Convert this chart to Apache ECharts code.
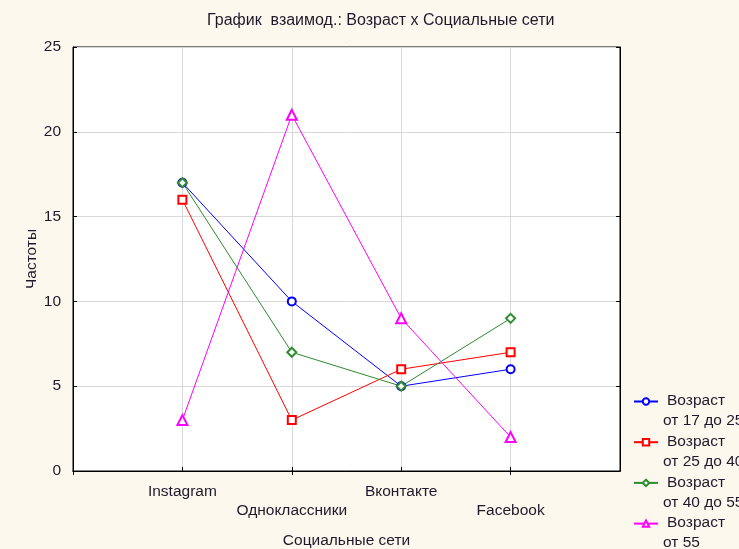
<!DOCTYPE html>
<html>
<head>
<meta charset="utf-8">
<script src="https://cdn.jsdelivr.net/npm/echarts@6/dist/echarts.min.js"></script>
<style>
  html, body { margin: 0; padding: 0; background: #fdf8ee; }
  #chart { width: 739px; height: 549px; }
</style>
</head>
<body>
<div id="chart"></div>
<script>
// данные с графика
var categories = ["Instagram", "Одноклассники", "Вконтакте", "Facebook"];
var age17to25 = [17, 10, 5, 6];
var age25to40 = [16, 3, 6, 7];
var age40to55 = [17, 7, 5, 9];
var age55plus = [3, 21, 9, 2];
var seriesNames = ["Возраст\nот 17 до 25", "Возраст\nот 25 до 40", "Возраст\nот 40 до 55", "Возраст\nот 55"];
var yTicks = [0, 5, 10, 15, 20, 25];

// пустые места по краям оси, как в оригинале
var axisData = [""].concat(categories).concat([""]);
function pad(arr) { return [null].concat(arr).concat([null]); }

var font = "Liberation Sans, Arial, sans-serif";
var textColor = "#1e1a2a";
var fs = 15.5;

function makeSeries(name, data, color, symbol, size) {
  return {
    name: name,
    type: "line",
    data: pad(data),
    symbol: symbol,
    symbolSize: size,
    showSymbol: true,
    connectNulls: false,
    lineStyle: { color: color, width: 1 },
    itemStyle: { color: color, borderColor: color, borderWidth: 1 },
    emphasis: { disabled: true },
    animation: false
  };
}

var chart = echarts.init(document.getElementById("chart"));
chart.setOption({
  backgroundColor: "#fdf8ee",
  animation: false,
  title: {
    text: "График  взаимод.: Возраст x Социальные сети",
    left: 207,
    top: 13,
    padding: 0,
    textStyle: { fontFamily: font, fontSize: 16, fontWeight: "normal", color: textColor }
  },
  legend: {
    orient: "vertical",
    left: 633,
    top: 393,
    height: 300,
    padding: 0,
    itemWidth: 24,
    itemHeight: 8,
    itemGap: 4.7,
    data: seriesNames,
    formatter: function (name) {
      var parts = name.split("\n");
      return "{a|" + parts[0] + "}\n{b|" + parts[1] + "}";
    },
    textStyle: {
      fontFamily: font,
      fontSize: fs,
      color: textColor,
      padding: [19, 0, 0, 0],
      rich: {
        a: { fontFamily: font, fontSize: fs, color: textColor, lineHeight: 20, padding: [0, 0, 0, 4] },
        b: { fontFamily: font, fontSize: fs, color: textColor, lineHeight: 20 }
      }
    }
  },
  grid: {
    left: 73,
    right: 119,
    top: 47,
    bottom: 78,
    outerBoundsMode: "none",
    containLabel: false,
    show: true,
    backgroundColor: "#ffffff",
    borderColor: "#000000",
    borderWidth: 1
  },
  xAxis: [
    {
      type: "category",
      data: axisData,
      boundaryGap: false,
      name: "Социальные сети",
      nameLocation: "middle",
      nameGap: 62,
      nameTextStyle: { fontFamily: font, fontSize: fs, color: textColor },
      axisLine: { lineStyle: { color: "#000" } },
      axisTick: { inside: true, length: 4, lineStyle: { color: "#000" } },
      axisLabel: {
        interval: 0,
        margin: 11,
        fontFamily: font,
        fontSize: fs,
        color: textColor,
        lineHeight: 19,
        formatter: function (v, i) { return i % 2 === 0 ? "\n" + v : v + "\n"; }
      },
      splitLine: { show: true, lineStyle: { color: "#d8d8d8", width: 1 } }
    },
    {
      type: "category",
      data: axisData,
      boundaryGap: false,
      position: "top",
      axisLine: { lineStyle: { color: "#000" } },
      axisTick: { inside: true, length: 4, lineStyle: { color: "#000" } },
      axisLabel: { show: false },
      splitLine: { show: false }
    }
  ],
  yAxis: [
    {
      type: "value",
      min: yTicks[0],
      max: yTicks[yTicks.length - 1],
      interval: 5,
      name: "Частоты",
      nameLocation: "middle",
      nameGap: 33,
      nameMoveOverlap: false,
      nameTextStyle: { fontFamily: font, fontSize: fs, color: textColor },
      axisLine: { show: true, lineStyle: { color: "#000" } },
      axisTick: { show: true, inside: true, length: 4, lineStyle: { color: "#000" } },
      axisLabel: { margin: 12, fontFamily: font, fontSize: fs, color: textColor },
      splitLine: { show: true, lineStyle: { color: "#d8d8d8", width: 1 } }
    },
    {
      type: "value",
      min: yTicks[0],
      max: yTicks[yTicks.length - 1],
      interval: 5,
      position: "right",
      axisLine: { show: true, lineStyle: { color: "#000" } },
      axisTick: { show: true, inside: true, length: 4, lineStyle: { color: "#000" } },
      axisLabel: { show: false },
      splitLine: { show: false }
    }
  ],
  series: [
    makeSeries(seriesNames[0], age17to25, "#0000ff", "emptyCircle", 8),
    makeSeries(seriesNames[1], age25to40, "#ff0000", "emptyRect", 8),
    makeSeries(seriesNames[2], age40to55, "#2e8b2e", "emptyDiamond", 9),
    makeSeries(seriesNames[3], age55plus, "#ff00ff", "emptyTriangle", 10)
  ]
});
</script>
</body>
</html>
